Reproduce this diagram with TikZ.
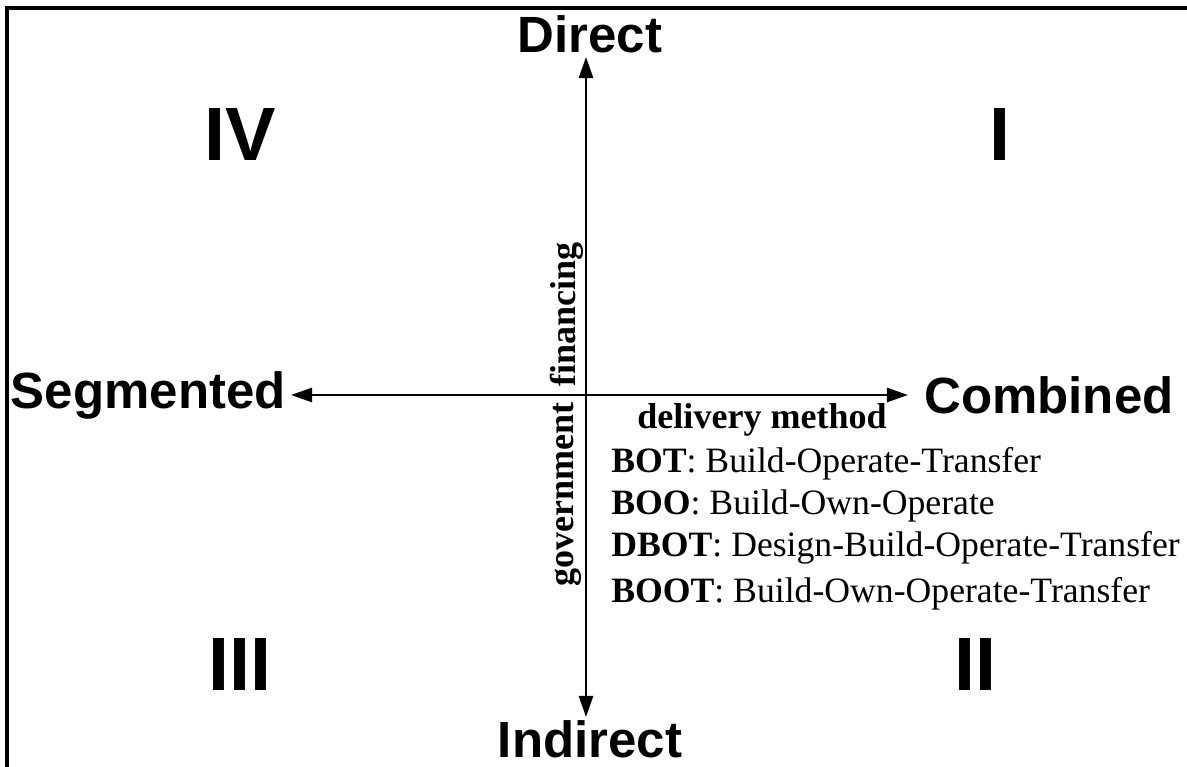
\documentclass[tikz,border=0pt]{standalone}
\usepackage{fontspec}
\setmainfont{Liberation Serif}
\newfontfamily\polefont{Liberation Sans}
\usetikzlibrary{arrows.meta}

\begin{document}
\begin{tikzpicture}[
   axis/.style={line width=1.5pt,{Triangle[length=12pt,width=8pt]}-{Triangle[length=12pt,width=8pt]}},
   pole/.style={font=\polefont\bfseries\fontsize{29}{31}\selectfont,inner sep=0pt},
   quadrant/.style={font=\polefont\bfseries\fontsize{43}{45}\selectfont,inner sep=0pt},
   axisname/.style={font=\bfseries\fontsize{20.5}{22}\selectfont,inner sep=0pt},
   method/.style={font=\fontsize{20.3}{23}\selectfont,inner sep=0pt,anchor=west}]
   \useasboundingbox (0,0) rectangle (23.74,15.34);
   % frame (only top and left edge show)
   \draw[line width=2pt] (0.14,0) -- (0.14,15.18) -- (23.74,15.18);

   % ends of the two axes
   \coordinate (up)    at (11.72,14.20);
   \coordinate (down)  at (11.72,1.00);
   \coordinate (left)  at (5.82,7.44);
   \coordinate (right) at (18.16,7.44);

   \node (direct)   at (11.80,14.66) [pole] {Direct};
   \node (indirect) at (11.80,0.56)  [pole] {Indirect};
   \node (segm)     at (5.72,7.44)   [pole,anchor=east] {Segmented};
   \node (comb)     at (18.48,7.44)  [pole,anchor=west] {Combined};

   \node (q1) at (20.00,12.64) [quadrant] {I};
   \node (q2) at (19.50,2.04)  [quadrant] {II};
   \node (q3) at (4.80,2.04)   [quadrant] {III};
   \node (q4) at (4.80,12.64)  [quadrant] {IV};

   \draw[axis] (down) -- (up);
   \draw[axis] (left) -- (right);

   \node (fin) at (11.34,7.60) [axisname,rotate=90,anchor=west] {financing};
   \node (gov) at (11.34,7.30) [axisname,rotate=90,anchor=east] {government};
   \node (deliv) at (15.24,6.94) [axisname] {delivery method};

   \node (bot)  at (12.22,6.06) [method] {\textbf{BOT}: Build-Operate-Transfer};
   \node (boo)  at (12.22,5.22) [method] {\textbf{BOO}: Build-Own-Operate};
   \node (dbot) at (12.22,4.38) [method] {\textbf{DBOT}: Design-Build-Operate-Transfer};
   \node (boot) at (12.22,3.46) [method] {\textbf{BOOT}: Build-Own-Operate-Transfer};
\end{tikzpicture}
\end{document}
